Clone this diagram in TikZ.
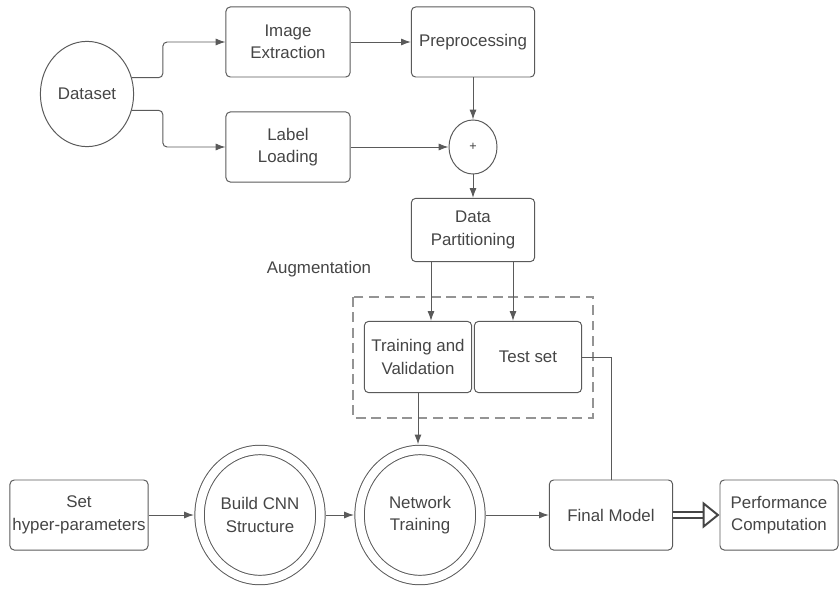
\documentclass[tikz,border=0pt]{standalone}
\usepackage{fontspec}
\setmainfont{Liberation Sans}
\usetikzlibrary{shapes.geometric,arrows.meta,calc}
\definecolor{lncol}{HTML}{5A5A5A}
\definecolor{txtcol}{HTML}{454545}

\begin{document}
\begin{tikzpicture}[x=0.025cm,y=-0.025cm,
    every node/.style={font=\fontsize{12}{16}\selectfont,text=txtcol,align=center},
    box/.style={draw=lncol,line width=0.7pt,rounded corners=3pt,minimum width=3.1cm,minimum height=1.75cm,inner sep=1pt},
    oval/.style={draw=lncol,line width=0.7pt,ellipse,inner sep=0pt},
    dbl/.style={draw=lncol,line width=0.7pt,ellipse,double,double distance=6pt,minimum width=3.02cm,minimum height=3.25cm,outer sep=4pt,inner sep=0pt},
    arr/.style={draw=lncol,line width=0.7pt,-{Latex[length=7pt,width=5pt]}},
    ln/.style={draw=lncol,line width=0.7pt}]
      \useasboundingbox (0,0) rectangle (839,590);
      % top part
      \node[oval,minimum width=2.33cm,minimum height=2.63cm] (dataset) at (87,94) {Dataset};
      \node[box] (imgext) at (288,42) {Image\\Extraction};
      \node[box] (lblload) at (288,147) {Label\\Loading};
      \node[box,minimum width=3.08cm] (prep) at (473,42) {Preprocessing};
      \node[oval,minimum width=1.2cm,minimum height=1.35cm,font=\small] (plus) at (473,147) {+};
      \node[box,minimum width=3.08cm,minimum height=1.58cm] (datapart) at (473,230) {Data\\Partitioning};
      \draw[arr,rounded corners=3pt] (dataset.20) -- ++(31,0) |- (imgext.west);
      \draw[arr,rounded corners=3pt] (dataset.-20) -- ++(31,0) |- (lblload.west);
      \draw[arr] (imgext.east) -- (prep.west);
      \draw[arr] (prep.south) -- (plus.north);
      \draw[arr] (lblload.east) -- (plus.west);
      \draw[arr] (plus.south) -- (datapart.north);
      % augmentation block
      \node (auglbl) at (319,269) {Augmentation};
      \draw[draw=lncol!65,line width=1pt,dash pattern=on 7pt off 4pt] (353,297) rectangle (593,418);
      \node[box,minimum width=2.68cm,minimum height=1.78cm] (trainval) at (418,357) {Training and\\Validation};
      \node[box,minimum width=2.68cm,minimum height=1.78cm] (testset) at (528,357) {Test set};
      \draw[arr] ($(datapart.south)+(-42,0)$) -- ($(trainval.north)+(13,0)$);
      \draw[arr] ($(datapart.south)+(40,0)$) -- ($(testset.north)+(-15,0)$);
      % bottom row
      \node[box,minimum width=3.45cm] (hyper) at (79,515) {Set\\hyper-parameters};
      \node[dbl] (buildcnn) at (260,515) {Build CNN\\Structure};
      \node[dbl] (nettrain) at (420,515) {Network\\Training};
      \node[box,minimum width=3.08cm] (finalmodel) at (611,515) {Final Model};
      \node[box,minimum width=2.95cm] (perf) at (779,515) {Performance\\Computation};
      \draw[arr] (hyper.east) -- (buildcnn.west);
      \draw[arr] (buildcnn.east) -- (nettrain.west);
      \draw[arr] (trainval.south) -- (trainval.south |- nettrain.north);
      \draw[arr] (nettrain.east) -- (finalmodel.west);
      \draw[ln] (testset.east) -| (finalmodel.north);
      \draw[draw=txtcol,line width=1.4pt,double,double distance=2.2pt,-{Triangle[open,length=12pt,width=19pt,line width=1.4pt]}] (finalmodel.east) -- (perf.west);
\end{tikzpicture}
\end{document}
